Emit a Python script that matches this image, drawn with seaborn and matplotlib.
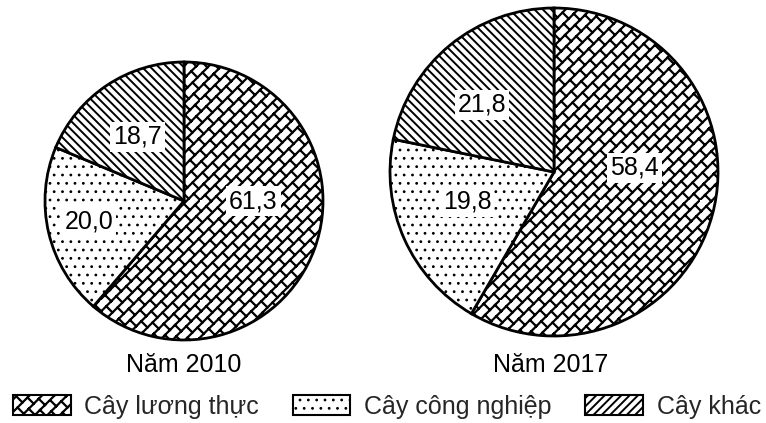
import numpy as np
import matplotlib
matplotlib.use("Agg")
import matplotlib.pyplot as plt
import matplotlib.hatch as mhatch
from matplotlib.path import Path
import seaborn as sns

# ---------------- data ----------------
categories = ["Cây lương thực", "Cây công nghiệp", "Cây khác"]
values_2010 = [61.3, 20.0, 18.7]
values_2017 = [58.4, 19.8, 21.8]
labels_2010 = ["61,3", "20,0", "18,7"]
labels_2017 = ["58,4", "19,8", "21,8"]
titles = ["Năm 2010", "Năm 2017"]

# ---------------- brick hatch ----------------
BRICK = "x+"
_orig_get_path = mhatch.get_path


def _clip(p0, p1):
    x0, y0 = p0
    dx, dy = p1[0] - x0, p1[1] - y0
    t0, t1 = 0.0, 1.0
    for p, q in ((-dx, x0), (dx, 1 - x0), (-dy, y0), (dy, 1 - y0)):
        if p == 0:
            if q < 0:
                return None
        else:
            r = q / p
            if p < 0:
                t0 = max(t0, r)
            else:
                t1 = min(t1, r)
    if t0 >= t1:
        return None
    return (x0 + t0 * dx, y0 + t0 * dy), (x0 + t1 * dx, y0 + t1 * dy)


def _brick_path(n=8, j=5):
    P = 1.0 / j
    segs = []
    for k in range(-n, n + 1):
        c = k / n
        segs.append(((-2.0, -2.0 + c), (3.0, 3.0 + c)))
    for k in range(-n - 1, n + 1):
        v0, v1 = k / n, (k + 1) / n
        off = (k % 2) * P / 2
        for m in range(-2, 2 * j + 3):
            u = m * P + off
            segs.append((((u - v0) / 2, (u + v0) / 2), ((u - v1) / 2, (u + v1) / 2)))
    verts, codes = [], []
    for a, b in segs:
        r = _clip(a, b)
        if r is None:
            continue
        verts += [r[0], r[1]]
        codes += [Path.MOVETO, Path.LINETO]
    return Path(np.array(verts), np.array(codes, dtype=Path.code_type))


def _get_path(hatchpattern, density=6):
    if hatchpattern == BRICK:
        return _brick_path()
    return _orig_get_path(hatchpattern, density)


mhatch.get_path = _get_path

hatches = [BRICK, "..", "\\\\\\\\"]
hatch_lws = [1.6, 0.8, 1.4]

# ---------------- style ----------------
sns.set_theme(style="white")
plt.rcParams["font.family"] = ["Liberation Sans", "DejaVu Sans"]
plt.rcParams["hatch.linewidth"] = 1.4
plt.rcParams["hatch.color"] = "black"

fig = plt.figure(figsize=(7.66, 4.23), dpi=100)
ax = fig.add_axes([0, 0, 1, 1])

pies = [
    dict(vals=values_2010, labs=labels_2010, center=(184, 222), r=139,
         lab_pos=[(0, 0.50), (192, 0.70), (126, 0.57)], title_xy=(184, 58)),
    dict(vals=values_2017, labs=labels_2017, center=(554, 251), r=164,
         lab_pos=[(3, 0.49), (199, 0.56), (137, 0.60)], title_xy=(551, 58)),
]


def style_hatch(patch, h, lw):
    patch.set_hatch(h)
    if hasattr(patch, "set_hatch_linewidth"):
        patch.set_hatch_linewidth(lw)


handles = None
for spec, title in zip(pies, titles):
    wedges, _ = ax.pie(spec["vals"], startangle=90, counterclock=False,
                       center=spec["center"], radius=spec["r"],
                       colors=["white"] * 3,
                       wedgeprops=dict(edgecolor="black", linewidth=2.0))
    for w, h, lw in zip(wedges, hatches, hatch_lws):
        style_hatch(w, h, lw)
    if handles is None:
        handles = wedges
    cx, cy = spec["center"]
    for lab, (ang, d) in zip(spec["labs"], spec["lab_pos"]):
        a = np.deg2rad(ang)
        ax.text(cx + d * spec["r"] * np.cos(a), cy + d * spec["r"] * np.sin(a), lab,
                ha="center", va="center", fontsize=18, color="black",
                bbox=dict(boxstyle="square,pad=0.12", fc="white", ec="none"))
    ax.text(spec["title_xy"][0], spec["title_xy"][1], title, ha="center",
            va="center", fontsize=18, color="black")

ax.set_xlim(0, 766)
ax.set_ylim(0, 423)
ax.set_aspect("equal", adjustable="box")
ax.axis("off")

leg = fig.legend(handles, categories, loc="center", ncol=3,
                 bbox_to_anchor=(387 / 766, 16 / 423), frameon=False,
                 fontsize=18, handlelength=2.3, handleheight=0.85,
                 handletextpad=0.55, columnspacing=1.35, borderpad=0.0)
leg_hatches = [BRICK, "..", "////"]
for p, h, lw in zip(leg.get_patches(), leg_hatches, hatch_lws):
    p.set_linewidth(1.5)
    style_hatch(p, h, lw)

fig.savefig("out.png", dpi=100, facecolor="white")
